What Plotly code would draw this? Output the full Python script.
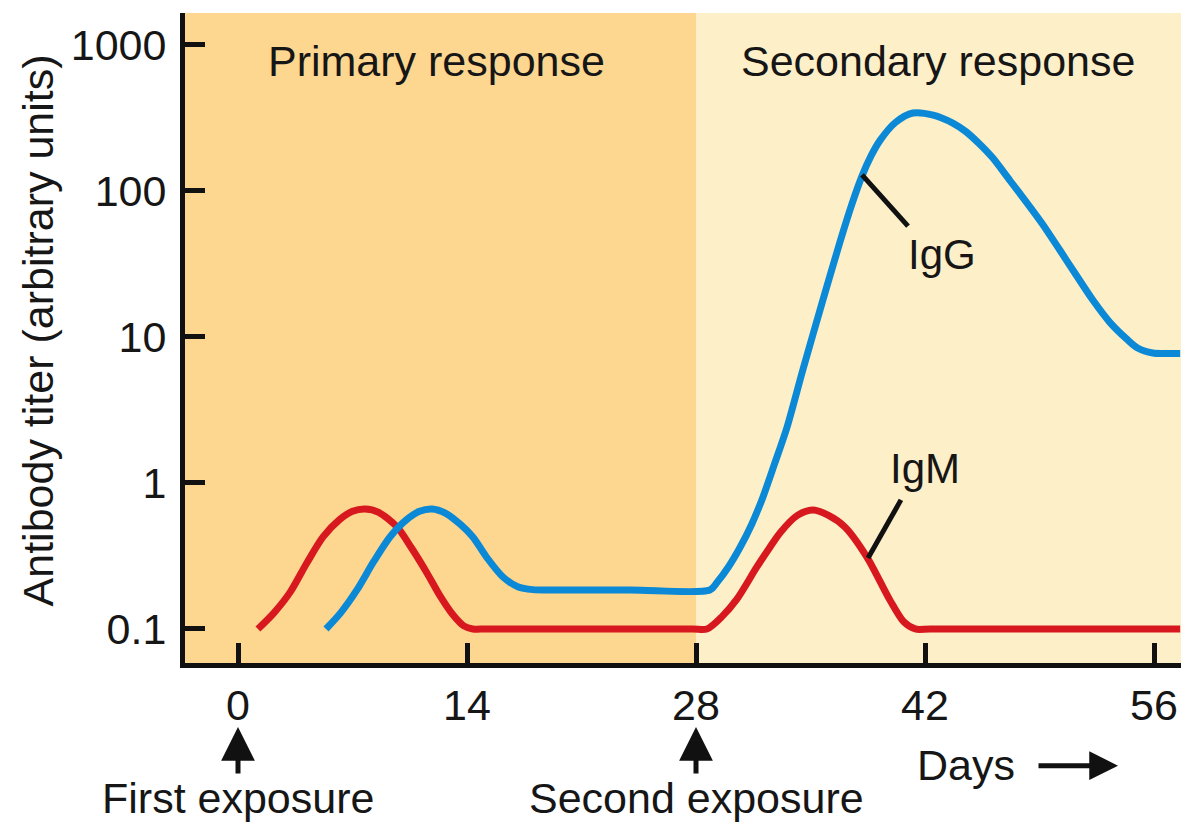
import plotly.graph_objects as go

# ---- data ----
igm_days = [1.22, 2.2, 3.18, 4.2, 5.2, 6.2, 7.0, 7.76, 8.6, 9.72, 10.6, 11.55, 12.4,
            13.14, 13.8, 14.36, 15.2, 21.5, 27.8,
            28.67, 29.6, 30.5, 31.72, 32.5, 33.13, 34.2, 35.15, 36.1, 37.1, 38.45,
            39.85, 40.7, 41.4, 42.3, 50.0, 57.6]
igm_vals = [0.1, 0.129, 0.178, 0.282, 0.427, 0.56, 0.64, 0.664, 0.63, 0.50, 0.36, 0.242, 0.165,
            0.125, 0.105, 0.1, 0.1, 0.1, 0.1,
            0.1, 0.122, 0.16, 0.266, 0.36, 0.455, 0.60, 0.653, 0.60, 0.50, 0.311,
            0.158, 0.112, 0.1, 0.1, 0.1, 0.1]

igg_days = [5.38, 6.3, 7.27, 8.3, 9.29, 10.3, 11.1, 11.86, 12.7, 13.6, 14.36, 15.2, 16.2,
            17.1, 18.03, 19.0, 24.0, 28.85,
            29.28, 30.0, 30.68, 31.4, 32.09, 32.8, 33.56, 34.54, 35.7, 36.8, 37.5, 38.14,
            38.7, 39.24, 40.2, 41.26, 42.5, 43.7, 44.5, 45.35, 46.15, 47.2, 48.23, 49.2,
            50.24, 51.2, 52.26, 53.3, 54.34, 55.0, 55.93, 56.6, 57.6]
igg_vals = [0.1, 0.13, 0.185, 0.29, 0.427, 0.56, 0.64, 0.664, 0.62, 0.52, 0.427, 0.31, 0.227,
            0.195, 0.186, 0.185, 0.185, 0.185,
            0.208, 0.268, 0.36, 0.52, 0.80, 1.35, 2.4, 6.0, 17.0, 44.7, 79.4, 125.9,
            173.8, 221.3, 295.1, 342, 331, 292, 255, 209, 168, 117.5, 83, 59,
            39.4, 27.0, 17.9, 12.6, 9.66, 8.4, 7.76, 7.7, 7.7]

igg_leader_days = [38.15, 40.96]
igg_leader_vals = [128.8, 57.5]
igm_leader_days = [38.52, 40.53]
igm_leader_vals = [0.306, 0.766]

x_ticks = [0, 14, 28, 42, 56]
y_ticks = [0.1, 1, 10, 100, 1000]
y_ticktext = ["0.1", "1", "10", "100", "1000"]

phase_bounds = [-3.24, 28, 57.65]
phase_names = ["Primary response", "Secondary response"]
exposure_days = [0, 28]
exposure_names = ["First exposure", "Second exposure"]

RED = "#D7191F"
BLUE = "#0B89D6"
FONT = "Liberation Sans"
TXT = "#161616"

fig = go.Figure()

# phase shading
phase_colors = ["#FDD68F", "#FDEFC8"]
for i in range(2):
    fig.add_vrect(x0=phase_bounds[i], x1=phase_bounds[i + 1],
                  fillcolor=phase_colors[i], line_width=0, layer="below")

fig.add_trace(go.Scatter(x=igm_days, y=igm_vals, mode="lines",
                         line=dict(color=RED, width=7, shape="spline", smoothing=0.8),
                         showlegend=False, hoverinfo="skip"))
fig.add_trace(go.Scatter(x=igg_days, y=igg_vals, mode="lines",
                         line=dict(color=BLUE, width=7, shape="spline", smoothing=0.8),
                         showlegend=False, hoverinfo="skip"))
fig.add_trace(go.Scatter(x=igg_leader_days, y=igg_leader_vals, mode="lines",
                         line=dict(color="#111111", width=5),
                         showlegend=False, hoverinfo="skip"))
fig.add_trace(go.Scatter(x=igm_leader_days, y=igm_leader_vals, mode="lines",
                         line=dict(color="#111111", width=5),
                         showlegend=False, hoverinfo="skip"))

fsize = 43
big = dict(family=FONT, size=43, color=TXT)
# phase labels
fig.add_annotation(text=phase_names[0], xref="paper", yref="paper", x=0.253, y=0.926,
                   xanchor="center", yanchor="middle", showarrow=False, font=big)
fig.add_annotation(text=phase_names[1], xref="paper", yref="paper", x=0.756, y=0.926,
                   xanchor="center", yanchor="middle", showarrow=False, font=big)
# curve labels (log axis -> log10 coordinates)
fig.add_annotation(text="IgG", x=43.04, y=1.568, showarrow=False,
                   xanchor="center", yanchor="middle",
                   font=dict(family=FONT, size=42, color=TXT))
fig.add_annotation(text="IgM", x=42.0, y=0.096, showarrow=False,
                   xanchor="center", yanchor="middle",
                   font=dict(family=FONT, size=42, color=TXT))

# exposure arrows and labels
for d, name in zip(exposure_days, exposure_names):
    fig.add_annotation(x=d, y=-0.0985, xref="x", yref="paper", text="",
                       showarrow=True, arrowhead=2, arrowwidth=5, arrowsize=1.35,
                       arrowcolor="#111111", ax=0, ay=48)
    fig.add_annotation(x=d, y=-0.2077, xref="x", yref="paper", text=name,
                       showarrow=False, xanchor="center", yanchor="middle", font=big)

# Days arrow
fig.add_annotation(x=44.5, y=-0.157, xref="x", yref="paper", text="Days",
                   showarrow=False, xanchor="center", yanchor="middle", font=big)
fig.add_annotation(x=53.8, y=-0.158, xref="x", yref="paper", text="",
                   showarrow=True, arrowhead=2, arrowwidth=5, arrowsize=1.15,
                   arrowcolor="#111111", ax=-81, ay=0)

# y title
fig.add_annotation(text="Antibody titer (arbitrary units)", xref="paper", yref="paper",
                   x=-0.148, y=0.511, textangle=-90, showarrow=False,
                   xanchor="center", yanchor="middle", font=big)

# page body has an 8px margin: shrink figure and shift margins to compensate
fig.update_layout(
    width=1186, height=831,
    margin=dict(l=177, r=13, t=5, b=176),
    paper_bgcolor="white", plot_bgcolor="white",
    xaxis=dict(range=[phase_bounds[0], phase_bounds[2]], tickvals=x_ticks,
               ticks="inside", ticklen=20, tickwidth=5, tickcolor="#111111",
               showline=True, linewidth=5, linecolor="#111111",
               showgrid=False, zeroline=False, automargin=False,
               tickfont=dict(family=FONT, size=fsize, color=TXT)),
    yaxis=dict(type="log", range=[-1.233, 3.219], tickvals=y_ticks, ticktext=y_ticktext,
               ticks="inside", ticklen=20, tickwidth=5, tickcolor="#111111",
               showline=True, linewidth=5, linecolor="#111111",
               showgrid=False, zeroline=False, automargin=False, ticklabelstandoff=5,
               tickfont=dict(family=FONT, size=fsize, color=TXT)),
)

fig.write_html("out.html")
